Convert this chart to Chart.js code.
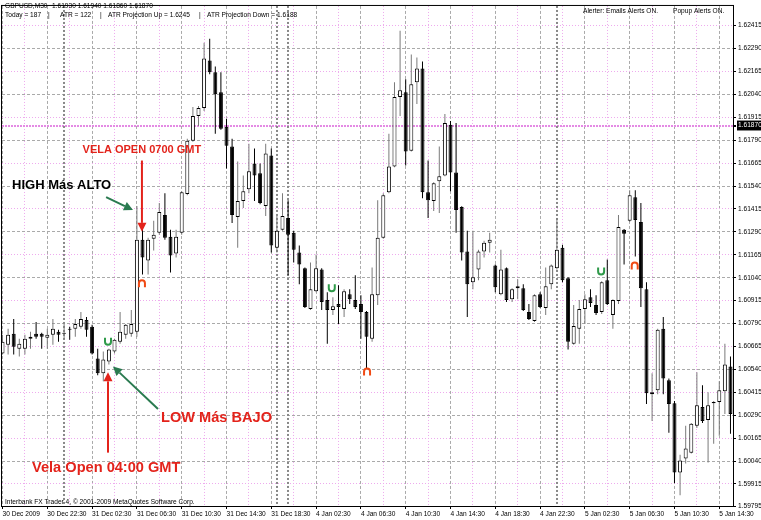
<!DOCTYPE html>
<html><head><meta charset="utf-8">
<script src="https://cdn.jsdelivr.net/npm/chart.js@4"></script>
<style>html,body{margin:0;padding:0;background:#fff;overflow:hidden}canvas{display:block}</style>
</head><body>
<canvas id="c" width="761" height="520"></canvas>
<script>
// ---- DATA (GBPUSD M30) ----
const opens = [
1.60626,1.60675,1.60734,1.60653,1.60653,1.60707,1.60734,1.60734,1.60713,1.60729,
1.60745,1.60734,1.60761,1.60761,1.60772,1.60810,1.60772,1.60599,1.60519,1.60583,
1.60637,1.60691,1.60729,1.60734,1.60745,1.61247,1.61134,1.61253,1.61285,1.61382,
1.61263,1.61172,1.61285,1.61496,1.61787,1.61922,1.61965,1.62225,1.62160,1.62052,
1.61863,1.61755,1.61371,1.61458,1.61523,1.61663,1.61609,1.61431,1.61706,1.61204,
1.61301,1.61366,1.61285,1.61177,1.61091,1.60869,1.60966,1.61085,1.60918,1.60864,
1.60896,1.60869,1.60950,1.60918,1.60896,1.60853,1.60707,1.60945,1.61258,1.61506,
1.61647,1.62025,1.62052,1.61733,1.62106,1.62181,1.61506,1.61458,1.61566,1.61598,
1.61874,1.61614,1.61425,1.61183,1.61015,1.61085,1.61183,1.61231,1.61107,1.60950,
1.61091,1.60923,1.60983,1.60983,1.60853,1.60804,1.60950,1.60875,1.61004,1.61091,
1.61204,1.61037,1.60680,1.60761,1.60869,1.60934,1.60891,1.60853,1.61026,1.60837,
1.60913,1.61301,1.61350,1.61479,1.61344,1.60977,1.60405,1.60426,1.60761,1.60481,
1.60356,1.59978,1.60054,1.60086,1.60232,1.60335,1.60264,1.60356,1.60362,1.60421,
1.60556];
const highs = [
1.60729,1.60761,1.60815,1.60707,1.60729,1.60745,1.60799,1.60740,1.60761,1.60815,
1.60756,1.60788,1.60772,1.60815,1.60853,1.60826,1.60783,1.60653,1.60637,1.60653,
1.60707,1.60853,1.60788,1.60864,1.61431,1.61312,1.61258,1.61350,1.61447,1.61501,
1.61301,1.61301,1.61512,1.61798,1.61971,1.61976,1.62322,1.62343,1.62192,1.62160,
1.61906,1.61798,1.61674,1.61598,1.61771,1.61744,1.61663,1.61771,1.61744,1.61377,
1.61501,1.61463,1.61296,1.61215,1.61096,1.61123,1.61166,1.61091,1.60961,1.60934,
1.60999,1.60977,1.60977,1.61053,1.60945,1.60858,1.61096,1.61463,1.61501,1.61825,
1.62106,1.62387,1.62122,1.62257,1.62241,1.62219,1.61679,1.61560,1.61755,1.61933,
1.61895,1.61884,1.61430,1.61296,1.61296,1.61193,1.61242,1.61285,1.61112,1.61193,
1.61096,1.60983,1.61031,1.61004,1.60896,1.60950,1.60961,1.61096,1.61112,1.61366,
1.61220,1.61042,1.60891,1.60918,1.60950,1.60977,1.60945,1.61021,1.61139,1.60923,
1.61382,1.61306,1.61517,1.61517,1.61447,1.61015,1.60519,1.60761,1.60826,1.60491,
1.60367,1.60075,1.60232,1.60248,1.60524,1.60453,1.60416,1.60367,1.60475,1.60680,
1.60610];
const lows = [
1.60621,1.60621,1.60621,1.60610,1.60621,1.60653,1.60707,1.60653,1.60653,1.60675,
1.60691,1.60707,1.60702,1.60718,1.60761,1.60718,1.60621,1.60508,1.60475,1.60567,
1.60626,1.60680,1.60707,1.60718,1.60718,1.61058,1.61058,1.61188,1.61274,1.61247,
1.61069,1.61150,1.61274,1.61490,1.61782,1.61868,1.61949,1.62149,1.61825,1.61847,
1.61636,1.61339,1.61204,1.61420,1.61501,1.61458,1.61441,1.61377,1.61177,1.61177,
1.61296,1.61053,1.61123,1.61004,1.60875,1.60864,1.60961,1.60864,1.60680,1.60837,
1.60788,1.60826,1.60896,1.60869,1.60707,1.60545,1.60691,1.60891,1.61253,1.61501,
1.61642,1.61922,1.61652,1.61728,1.61987,1.61474,1.61366,1.61404,1.61393,1.61593,
1.61512,1.61285,1.61134,1.60826,1.60977,1.61026,1.61150,1.61177,1.60961,1.60945,
1.60907,1.60907,1.60923,1.60858,1.60810,1.60799,1.60875,1.60837,1.60977,1.61085,
1.61015,1.60648,1.60675,1.60680,1.60788,1.60880,1.60837,1.60842,1.60891,1.60761,
1.60896,1.61112,1.61344,1.61156,1.60880,1.60351,1.60259,1.60405,1.60405,1.60194,
1.59919,1.59854,1.60027,1.60081,1.60221,1.60248,1.60032,1.60135,1.60178,1.60297,
1.60189];
const closes = [
1.60691,1.60729,1.60664,1.60680,1.60707,1.60718,1.60718,1.60718,1.60729,1.60761,
1.60729,1.60740,1.60756,1.60788,1.60815,1.60756,1.60626,1.60519,1.60594,1.60648,
1.60702,1.60745,1.60783,1.60788,1.61247,1.61150,1.61247,1.61274,1.61398,1.61258,
1.61161,1.61263,1.61506,1.61787,1.61922,1.61965,1.62235,1.62160,1.62041,1.61852,
1.61760,1.61382,1.61458,1.61512,1.61620,1.61598,1.61447,1.61717,1.61215,1.61296,
1.61377,1.61274,1.61193,1.61112,1.60880,1.60977,1.61091,1.60907,1.60864,1.60885,
1.60880,1.60966,1.60923,1.60880,1.60853,1.60718,1.60950,1.61258,1.61490,1.61647,
1.62025,1.62063,1.61728,1.62095,1.62181,1.61506,1.61463,1.61555,1.61593,1.61884,
1.61614,1.61409,1.61177,1.61004,1.61042,1.61183,1.61231,1.61247,1.60988,1.61085,
1.60918,1.60977,1.60993,1.60864,1.60815,1.60945,1.60880,1.60993,1.61107,1.61193,
1.61026,1.60691,1.60777,1.60869,1.60923,1.60902,1.60848,1.61015,1.60896,1.60918,
1.61317,1.61280,1.61490,1.61355,1.60983,1.60410,1.60416,1.60756,1.60491,1.60351,
1.59978,1.60043,1.60108,1.60243,1.60345,1.60259,1.60345,1.60362,1.60426,1.60567,
1.60297];
const timeLabels = ["30 Dec 2009","30 Dec 22:30","31 Dec 02:30","31 Dec 06:30","31 Dec 10:30",
  "31 Dec 14:30","31 Dec 18:30","4 Jan 02:30","4 Jan 06:30","4 Jan 10:30","4 Jan 14:30",
  "4 Jan 18:30","4 Jan 22:30","5 Jan 02:30","5 Jan 06:30","5 Jan 10:30","5 Jan 14:30"];
const priceTicks = [1.62415,1.62290,1.62165,1.62040,1.61915,1.61790,1.61665,1.61540,1.61415,
  1.61290,1.61165,1.61040,1.60915,1.60790,1.60665,1.60540,1.60415,1.60290,1.60165,1.60040,1.59915];
const axisMinPrice = 1.59795;
const axisMaxPrice = 1.62522;
const currentPrice = 1.61870;
const lastBar = {o:"1.61930", h:"1.61940", l:"1.61860", c:"1.61870"};
const todayRange = 187;
const atrValue = 122;
const atrUp = "1.6245";
const atrDown = "1.6188";
const daySeparators = [11, 49, 51, 99];
const upSignals = [{bar:18.84, price:1.60691},{bar:58.8, price:1.60983},{bar:106.9, price:1.61074}];
const downSignals = [{bar:24.9, price:1.61010},{bar:65.1, price:1.60529},{bar:112.9, price:1.61107}];

// ---- CHART ----
const FONT = '"Liberation Sans", Arial, sans-serif';
Chart.defaults.font.family = FONT;
Chart.defaults.font.size = 6.6;
const idx = opens.map((_, i) => i);
const isUp = idx.map(i => closes[i] >= opens[i]);
const wickData = idx.map(i => ({x: i, y: [lows[i], highs[i]]}));
const bodyData = idx.map(i => ({x: i, y: [opens[i], closes[i]]}));

const RED = '#e3231b', GREEN = '#2a7a50';
const annTexts = [
  {text:'VELA OPEN 0700 GMT', bar:14.3, price:1.61739, color:RED, size:11},
  {text:'HIGH Más ALTO', bar:1.7, price:1.61544, color:'#000', size:13},
  {text:'LOW Más BAJO', bar:28.3, price:1.60275, color:RED, size:14.6},
  {text:'Vela Open 04:00 GMT', bar:5.27, price:1.60005, color:RED, size:14.6}
];
const annArrows = [
  {b1:24.9, p1:1.61679, b2:24.9, p2:1.61290, color:RED},
  {b1:18.5, p1:1.61479, b2:23.3, p2:1.61409, color:GREEN},
  {b1:27.77, p1:1.60324, b2:19.73, p2:1.60556, color:GREEN},
  {b1:18.84, p1:1.60086, b2:18.84, p2:1.60524, color:RED}
];

function arrow(ctx, x1, y1, x2, y2, color) {
  const ang = Math.atan2(y2 - y1, x2 - x1);
  const hl = 9, hw = 4.5;
  const bx = x2 - hl * Math.cos(ang), by = y2 - hl * Math.sin(ang);
  ctx.strokeStyle = color; ctx.fillStyle = color; ctx.lineWidth = 2;
  ctx.beginPath(); ctx.moveTo(x1, y1); ctx.lineTo(bx, by); ctx.stroke();
  ctx.beginPath();
  ctx.moveTo(x2, y2);
  ctx.lineTo(bx + hw * Math.sin(ang), by - hw * Math.cos(ang));
  ctx.lineTo(bx - hw * Math.sin(ang), by + hw * Math.cos(ang));
  ctx.closePath(); ctx.fill();
}

const overlay = {
  id: 'overlay',
  beforeDatasetsDraw(chart) {
    const {ctx, chartArea: a, scales: {x}} = chart;
    ctx.save();
    ctx.strokeStyle = '#888'; ctx.lineWidth = 2; ctx.setLineDash([2, 2]);
    daySeparators.forEach(b => {
      const px = Math.round(x.getPixelForValue(b));
      ctx.beginPath(); ctx.moveTo(px, a.top); ctx.lineTo(px, a.bottom); ctx.stroke();
    });
    ctx.restore();
  },
  afterDraw(chart) {
    const {ctx, chartArea: a, scales: {x, y}} = chart;
    ctx.save();
    // frame
    ctx.strokeStyle = '#000'; ctx.lineWidth = 1;
    ctx.strokeRect(a.left - 0.5, a.top - 0.5, a.right - a.left + 1, a.bottom - a.top + 1);
    // header texts
    ctx.fillStyle = '#000'; ctx.textBaseline = 'middle'; ctx.textAlign = 'left';
    ctx.font = '6.6px ' + FONT;
    ctx.fillText('GBPUSD,M30', 5, 6);
    ctx.fillText(lastBar.o + ' ' + lastBar.h + ' ' + lastBar.l + ' ' + lastBar.c, 52, 6);
    ctx.fillText('Today = ' + todayRange, 5, 15);
    ctx.fillText('|', 48, 15);
    ctx.fillText('ATR = ' + atrValue, 60, 15);
    ctx.fillText('|', 100, 15);
    ctx.fillText('ATR Projection Up = ' + atrUp, 108, 15);
    ctx.fillText('|', 199, 15);
    ctx.fillText('ATR Projection Down = ' + atrDown, 207, 15);
    ctx.fillText('Alerter:', 583, 11);
    ctx.fillText('Emails Alerts ON.', 606, 11);
    ctx.fillText('Popup Alerts ON.', 673, 11);
    ctx.fillText('Interbank FX Trader 4, \u00a9 2001-2009 MetaQuotes Software Corp.', 5, 502);
    // signals
    ctx.lineWidth = 2;
    upSignals.forEach(s => {
      const px = x.getPixelForValue(s.bar), py = y.getPixelForValue(s.price);
      ctx.strokeStyle = '#2f9a4a';
      ctx.beginPath(); ctx.moveTo(px - 3, py - 4); ctx.lineTo(px - 3, py);
      ctx.arc(px, py, 3, Math.PI, 0, true); ctx.lineTo(px + 3, py - 4); ctx.stroke();
    });
    downSignals.forEach(s => {
      const px = x.getPixelForValue(s.bar), py = y.getPixelForValue(s.price);
      ctx.strokeStyle = '#f04a14';
      ctx.beginPath(); ctx.moveTo(px - 3, py + 4); ctx.lineTo(px - 3, py);
      ctx.arc(px, py, 3, Math.PI, 0, false); ctx.lineTo(px + 3, py + 4); ctx.stroke();
    });
    // annotation arrows
    annArrows.forEach(r => arrow(ctx, x.getPixelForValue(r.b1), y.getPixelForValue(r.p1),
      x.getPixelForValue(r.b2), y.getPixelForValue(r.p2), r.color));
    // annotation texts
    annTexts.forEach(t => {
      ctx.fillStyle = t.color; ctx.font = 'bold ' + t.size + 'px ' + FONT;
      ctx.fillText(t.text, x.getPixelForValue(t.bar), y.getPixelForValue(t.price));
    });
    ctx.restore();
  }
};

const yGridColor = c => {
  if (!c.tick) return 'rgba(0,0,0,0)';
  const v = c.tick.value;
  if (v === currentPrice) return '#e48ae4';
  if (v === axisMinPrice) return 'rgba(0,0,0,0)';
  const k = priceTicks.indexOf(v);
  return k % 2 === 0 ? '#eeaaee' : '#aaaaaa';
};
const yDash = c => {
  if (!c.tick) return [];
  const v = c.tick.value;
  if (v === currentPrice) return [2, 1];
  const k = priceTicks.indexOf(v);
  return k % 2 === 0 ? [1, 2] : [3, 2];
};

new Chart(document.getElementById('c'), {
  type: 'bar',
  data: {
    datasets: [
      {label: 'wick', data: wickData, grouped: false, barThickness: 1, inflateAmount: 0,
       backgroundColor: idx.map(i => isUp[i] ? '#7a7a7a' : '#000'), borderWidth: 0, order: 2},
      {label: 'body', data: bodyData, grouped: false, barThickness: 4, inflateAmount: 0,
       backgroundColor: idx.map(i => isUp[i] ? '#fff' : '#000'), borderColor: '#000',
       borderWidth: 1, borderSkipped: false, order: 1}
    ]
  },
  options: {
    responsive: false, animation: false,
    layout: {padding: {left: 2, top: 1, right: 0, bottom: 0}},
    plugins: {legend: {display: false}, tooltip: {enabled: false}},
    scales: {
      x: {
        type: 'linear', min: -0.09, max: 130.45, bounds: 'data', offset: false,
        afterBuildTicks: s => { const t = []; for (let v = 0; v <= 130; v += 4) t.push({value: v}); s.ticks = t; },
        afterFit: s => { s.height = 14; },
        grid: {offset: false, tickLength: 3, lineWidth: 1,
          color: c => (c.tick && c.tick.value % 8 === 0) ? '#aaaaaa' : '#eeaaee',
          tickColor: c => (c.tick && c.tick.value % 8 === 0) ? '#000' : 'rgba(0,0,0,0)'},
        border: {display: true, color: '#000', width: 1,
          dash: c => (c.tick && c.tick.value % 8 !== 0) ? [1, 2] : [3, 2]},
        ticks: {autoSkip: false, maxRotation: 0, minRotation: 0, align: 'start', padding: 1,
          color: '#000', font: {size: 6.6},
          callback: v => (v % 8 === 0 ? (timeLabels[v / 8] || '') : '')}
      },
      y: {
        type: 'linear', position: 'right', min: axisMinPrice, max: axisMaxPrice,
        bounds: 'data', beginAtZero: false,
        afterBuildTicks: s => {
          s.ticks = priceTicks.concat([currentPrice, axisMinPrice]).sort((a, b) => a - b).map(v => ({value: v}));
        },
        afterFit: s => { s.width = 28; },
        grid: {tickLength: 3, color: yGridColor, tickColor: '#000',
          lineWidth: c => (c.tick && c.tick.value === currentPrice) ? 2 : 1},
        border: {display: true, color: '#000', width: 1, dash: yDash},
        ticks: {autoSkip: false, padding: 2, font: {size: 6.6},
          color: c => (c.tick && c.tick.value === currentPrice) ? '#fff' : '#000',
          showLabelBackdrop: c => !!(c.tick && c.tick.value === currentPrice),
          backdropColor: '#000', backdropPadding: {x: 1, y: 1},
          callback: v => Number(v).toFixed(5)}
      }
    }
  },
  plugins: [overlay]
});
</script>
</body></html>
